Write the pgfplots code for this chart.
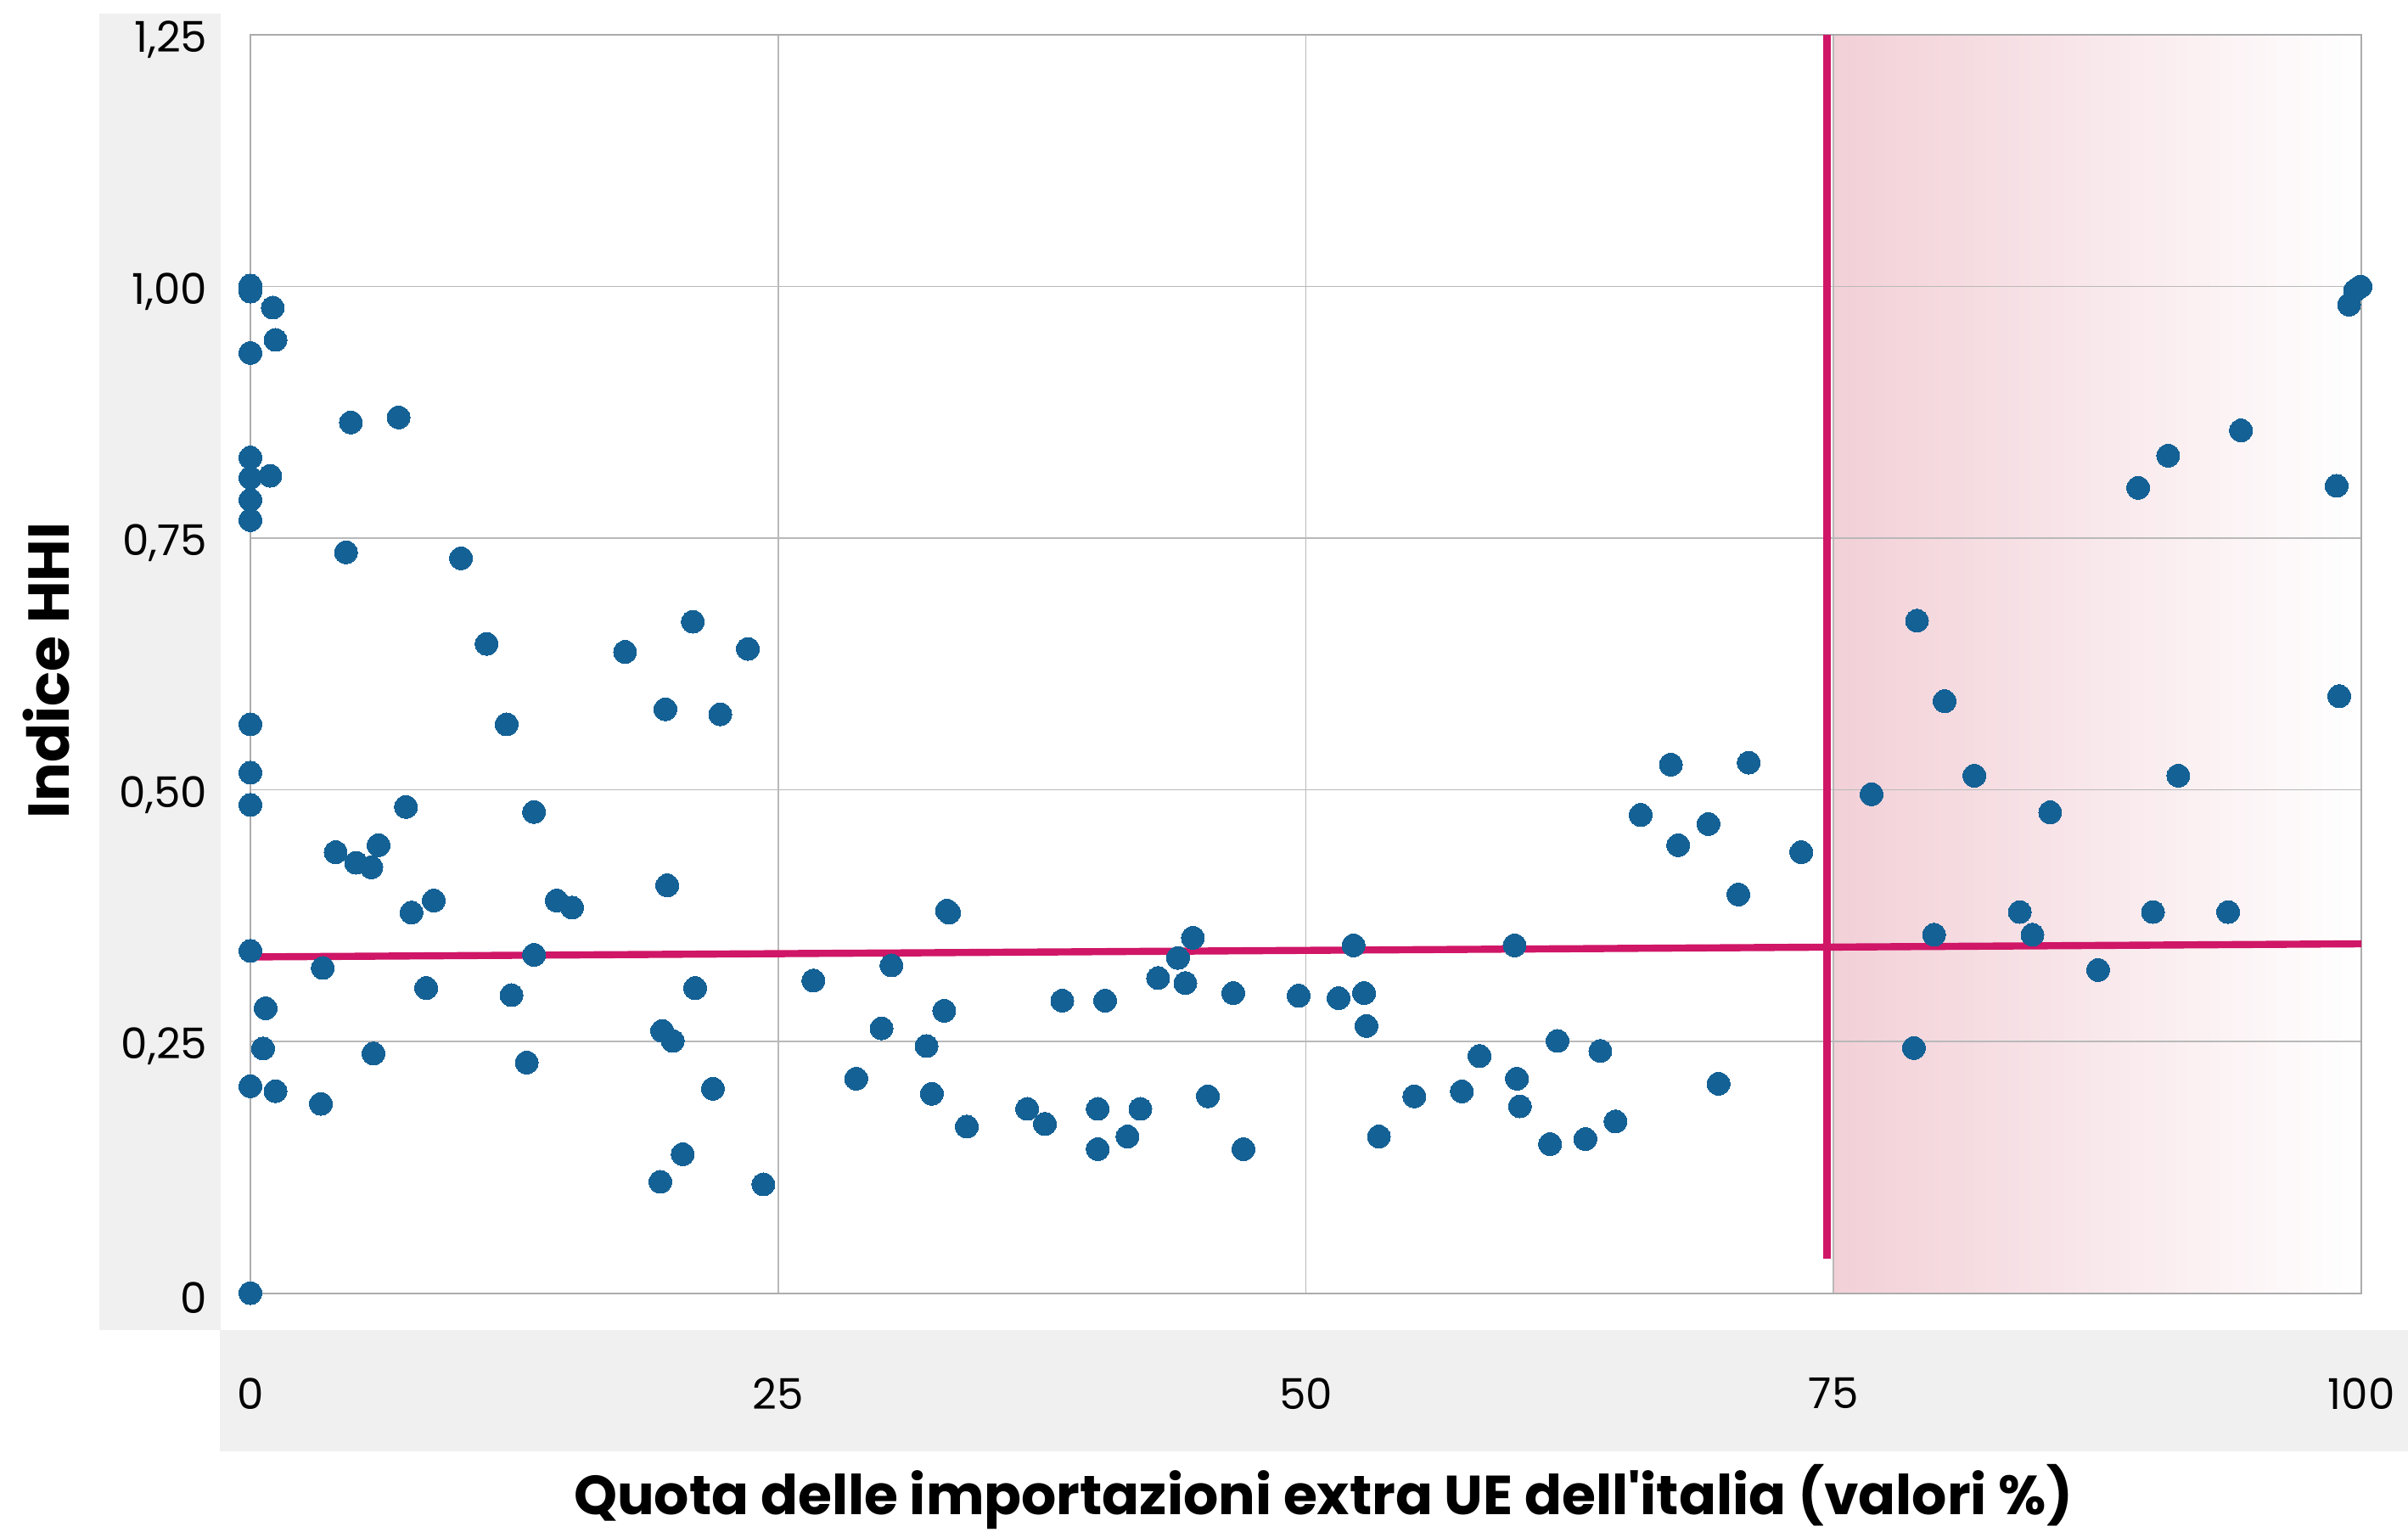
\documentclass[border=0pt]{standalone}
\usepackage{fontspec}
\setmainfont{Poppins}
\newfontfamily\plainpop{Poppins}
\usepackage{pgfplots}
\pgfplotsset{compat=1.18}
\definecolor{dotblue}{RGB}{20,97,149}
\definecolor{crimson}{RGB}{208,22,102}
\definecolor{pinkL}{RGB}{242,208,215}
\definecolor{panel}{RGB}{240,240,240}
\begin{document}
\begin{tikzpicture}
\path (-73.75pt,-70.125pt) rectangle (635.5pt,380.875pt);
\begin{axis}[
  at={(0,0)}, anchor=south west, scale only axis,
  width=621.75pt, height=370.6pt,
  xmin=0, xmax=100, ymin=0, ymax=1.25,
  set layers, clip=false,
  axis line style={draw=gray!65, line width=0.5pt},
  xtick={0,25,50,75,100},
  xticklabels={0,25,50,75,100},
  ytick={0,0.25,0.5,0.75,1,1.25},
  yticklabels={0,{0,25},{0,50},{0,75},{1,00},{1,25}},
  major tick length=0pt, tick style={draw=none},
  grid=major, grid style={gray!55, line width=0.4pt},
  tick label style={font=\plainpop\fontsize{12.5}{12.5}\selectfont, text=black},
  yticklabel style={anchor=east, inner sep=0pt, xshift=-12.5pt, yshift=-1.5pt},
  xticklabel style={anchor=center, inner sep=0pt, yshift=-29.6pt},
]
\begin{pgfonlayer}{axis background}
\fill[panel] ([xshift=-44.5pt,yshift=-10.9pt]rel axis cs:0,0) rectangle ([xshift=-8.75pt,yshift=6.3pt]rel axis cs:0,1);
\fill[panel] ([xshift=-9pt,yshift=-46.6pt]rel axis cs:0,0) rectangle ([xshift=13.75pt,yshift=-10.9pt]rel axis cs:1,0);
\end{pgfonlayer}
\addplot[draw=none, left color=pinkL, right color=white, on layer=axis background]
  coordinates {(75,0) (75,1.25) (100,1.25) (100,0)};

\addplot[only marks, mark=*, mark size=3.375pt, mark options={fill=dotblue, draw=dotblue, line width=0pt}]
table {
x y
0 1.001
0 0.995
0 0.934
0 0.830
0 0.810
0 0.788
0 0.768
0 0.565
0 0.517
0 0.485
0 0.340
0 0.2055
0 0
1.06 0.979
1.19 0.947
0.94 0.812
0.72 0.283
0.60 0.243
1.19 0.2006
3.34 0.188
3.43 0.323
4.04 0.438
4.53 0.736
4.76 0.865
5.01 0.4275
5.73 0.423
5.83 0.238
6.07 0.445
7.02 0.870
7.37 0.483
7.63 0.378
8.33 0.303
8.69 0.390
9.98 0.730
11.19 0.645
12.14 0.565
12.37 0.296
13.09 0.229
13.44 0.478
13.44 0.336
14.51 0.390
15.24 0.383
17.75 0.637
19.42 0.1105
19.51 0.2605
19.66 0.580
19.75 0.405
20.01 0.2505
20.48 0.138
20.96 0.667
21.07 0.303
21.91 0.203
22.26 0.575
23.57 0.640
24.30 0.108
26.67 0.3105
28.70 0.213
29.90 0.263
30.37 0.3255
32.03 0.2455
32.28 0.198
32.87 0.2805
33.00 0.380
33.10 0.378
33.94 0.1654
36.80 0.183
37.64 0.168
38.46 0.2905
40.14 0.183
40.14 0.143
40.49 0.2905
41.55 0.1555
42.16 0.183
43.00 0.313
43.94 0.333
44.29 0.308
44.65 0.353
45.36 0.1955
46.56 0.298
47.04 0.143
49.66 0.2954
51.55 0.293
52.26 0.3455
52.76 0.298
52.87 0.2654
53.46 0.1555
55.14 0.1955
57.39 0.2004
58.23 0.2355
59.89 0.3455
60.00 0.213
60.14 0.1855
61.57 0.148
61.92 0.2505
63.24 0.153
63.95 0.2405
64.67 0.1705
65.86 0.475
67.29 0.525
67.64 0.445
69.07 0.466
69.55 0.208
70.49 0.396
70.98 0.527
73.47 0.438
76.80 0.4956
78.80 0.2435
78.95 0.668
79.76 0.356
80.26 0.588
81.67 0.514
83.82 0.3786
84.42 0.356
85.26 0.4776
87.53 0.321
89.43 0.800
90.13 0.3786
90.85 0.832
91.33 0.514
93.69 0.3786
94.30 0.857
98.83 0.802
98.95 0.593
99.42 0.982
99.70 0.996
99.96 1.000
};

\addplot[crimson, line width=2.1pt] coordinates {(0.3,0.334) (100,0.347)};
\addplot[crimson, line width=2.2pt] coordinates {(74.7,0.034) (74.7,1.25)};
\end{axis}
\node[inner sep=0pt, font=\plainpop\bfseries\fontsize{16.2}{16.2}\selectfont] at (316pt,-60pt) {Quota delle importazioni extra UE dell'italia (valori \%)};
\node[inner sep=0pt, rotate=90, font=\plainpop\bfseries\fontsize{17}{17}\selectfont] at (-60pt,183.4pt) {Indice HHI};
\end{tikzpicture}
\end{document}
